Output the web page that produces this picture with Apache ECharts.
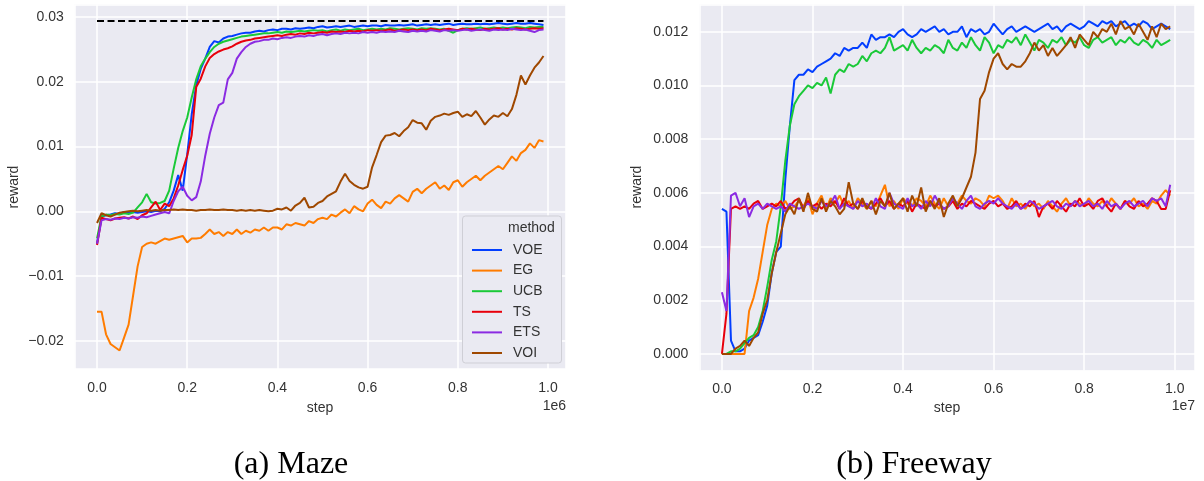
<!DOCTYPE html>
<html>
<head>
<meta charset="utf-8">
<script src="https://cdn.jsdelivr.net/npm/echarts@6/dist/echarts.min.js"></script>
<style>
html,body{margin:0;padding:0;background:#fff;}
#chart{width:1204px;height:481px;}
</style>
</head>
<body>
<div id="chart"></div>
<script>
// ---------------- DATA ----------------
const methods = ['VOE', 'EG', 'UCB', 'TS', 'ETS', 'VOI'];
const colors = ['#023eff', '#ff7c00', '#1ac938', '#e8000b', '#8b2be2', '#9f4800'];

// Maze: steps 0 .. 0.99e6 (every 1e4)
const mazeSteps = Array.from({length: 100}, (_, i) => i * 10000);
const mazeOptimal = 0.0294;
const mazeVOE = [-0.0050,-0.0008,-0.0006,-0.0005,-0.0003,-0.0004,-0.0001,-0.0002,-0.0001,-0.0002,
 -0.0001,0.0000,-0.0001,0.0001,0.0000,0.0004,0.0014,0.0032,0.0056,0.0032,
 0.0088,0.0150,0.0195,0.0220,0.0236,0.0254,0.0263,0.0261,0.0267,0.0270,
 0.0271,0.0273,0.0275,0.0276,0.0276,0.0278,0.0279,0.0278,0.0280,0.0281,
 0.0280,0.0282,0.0282,0.0281,0.0283,0.0282,0.0283,0.0284,0.0283,0.0285,
 0.0286,0.0284,0.0285,0.0286,0.0285,0.0286,0.0287,0.0285,0.0286,0.0287,
 0.0286,0.0287,0.0287,0.0286,0.0288,0.0287,0.0287,0.0288,0.0287,0.0288,
 0.0289,0.0287,0.0288,0.0289,0.0288,0.0289,0.0288,0.0289,0.0290,0.0288,
 0.0289,0.0290,0.0289,0.0289,0.0290,0.0289,0.0290,0.0289,0.0290,0.0291,
 0.0290,0.0289,0.0290,0.0291,0.0290,0.0290,0.0291,0.0290,0.0289,0.0288];
const mazeEG = [-0.0155,-0.0155,-0.0190,-0.0205,-0.0210,-0.0215,-0.0195,-0.0175,-0.0130,-0.0085,
 -0.0055,-0.0050,-0.0048,-0.0050,-0.0046,-0.0042,-0.0044,-0.0042,-0.0040,-0.0038,
 -0.0048,-0.0042,-0.0042,-0.0041,-0.0035,-0.0028,-0.0035,-0.0032,-0.0038,-0.0032,
 -0.0035,-0.0028,-0.0035,-0.0030,-0.0033,-0.0028,-0.0030,-0.0025,-0.0030,-0.0025,
 -0.0025,-0.0028,-0.0020,-0.0022,-0.0018,-0.0020,-0.0022,-0.0015,-0.0018,-0.0012,
 -0.0010,-0.0012,-0.0005,-0.0008,-0.0002,0.0003,-0.0003,0.0008,0.0003,0.0000,
 0.0012,0.0018,0.0010,0.0005,0.0015,0.0012,0.0020,0.0025,0.0020,0.0015,
 0.0030,0.0035,0.0028,0.0035,0.0040,0.0045,0.0035,0.0040,0.0033,0.0045,
 0.0048,0.0038,0.0045,0.0050,0.0055,0.0048,0.0055,0.0060,0.0065,0.0070,
 0.0065,0.0075,0.0085,0.0078,0.0090,0.0095,0.0105,0.0098,0.0110,0.0108];
const mazeUCB = [-0.0042,-0.0008,-0.0005,-0.0006,-0.0004,-0.0005,-0.0003,-0.0004,-0.0002,0.0006,
 0.0014,0.0027,0.0014,0.0012,0.0013,0.0016,0.0032,0.0066,0.0098,0.0124,
 0.0145,0.0176,0.0204,0.0224,0.0236,0.0246,0.0254,0.0259,0.0262,0.0264,
 0.0266,0.0268,0.0270,0.0271,0.0272,0.0273,0.0274,0.0275,0.0275,0.0276,
 0.0277,0.0276,0.0278,0.0277,0.0278,0.0279,0.0278,0.0279,0.0280,0.0279,
 0.0280,0.0278,0.0280,0.0281,0.0279,0.0281,0.0280,0.0281,0.0282,0.0280,
 0.0281,0.0282,0.0281,0.0282,0.0281,0.0283,0.0282,0.0281,0.0282,0.0283,
 0.0282,0.0281,0.0283,0.0282,0.0283,0.0282,0.0281,0.0282,0.0279,0.0276,
 0.0280,0.0282,0.0283,0.0282,0.0283,0.0284,0.0282,0.0283,0.0284,0.0283,
 0.0284,0.0283,0.0284,0.0285,0.0284,0.0283,0.0285,0.0284,0.0285,0.0285];
const mazeTS = [-0.0052,-0.0010,-0.0012,-0.0014,-0.0011,-0.0010,-0.0009,-0.0011,-0.0008,-0.0012,
 -0.0006,-0.0003,0.0006,0.0015,0.0002,0.0012,0.0008,0.0020,0.0040,0.0064,
 0.0086,0.0118,0.0192,0.0205,0.0224,0.0237,0.0243,0.0247,0.0250,0.0252,
 0.0255,0.0259,0.0262,0.0264,0.0265,0.0267,0.0268,0.0269,0.0270,0.0271,
 0.0272,0.0271,0.0273,0.0274,0.0273,0.0275,0.0274,0.0276,0.0275,0.0276,
 0.0277,0.0276,0.0278,0.0277,0.0278,0.0277,0.0279,0.0278,0.0279,0.0278,
 0.0280,0.0279,0.0280,0.0279,0.0280,0.0281,0.0279,0.0280,0.0281,0.0280,
 0.0281,0.0280,0.0281,0.0280,0.0282,0.0281,0.0280,0.0281,0.0282,0.0281,
 0.0280,0.0282,0.0281,0.0282,0.0281,0.0280,0.0282,0.0281,0.0282,0.0283,
 0.0281,0.0282,0.0281,0.0283,0.0282,0.0281,0.0282,0.0283,0.0282,0.0283];
const mazeETS = [-0.0050,-0.0014,-0.0012,-0.0013,-0.0011,-0.0012,-0.0010,-0.0011,-0.0009,-0.0010,
 -0.0008,-0.0009,-0.0007,-0.0005,-0.0003,-0.0001,-0.0003,0.0016,0.0031,0.0038,
 0.0024,0.0017,0.0022,0.0046,0.0086,0.0120,0.0145,0.0164,0.0168,0.0204,
 0.0214,0.0236,0.0246,0.0254,0.0259,0.0262,0.0263,0.0265,0.0265,0.0267,
 0.0266,0.0268,0.0269,0.0268,0.0270,0.0271,0.0270,0.0272,0.0271,0.0273,
 0.0274,0.0272,0.0274,0.0275,0.0274,0.0276,0.0275,0.0276,0.0275,0.0277,
 0.0276,0.0277,0.0276,0.0278,0.0277,0.0278,0.0277,0.0279,0.0278,0.0277,
 0.0279,0.0278,0.0279,0.0278,0.0280,0.0279,0.0278,0.0280,0.0279,0.0280,
 0.0279,0.0280,0.0281,0.0279,0.0280,0.0281,0.0280,0.0279,0.0281,0.0280,
 0.0281,0.0280,0.0282,0.0281,0.0280,0.0281,0.0279,0.0277,0.0280,0.0281];
const mazeVOI = [-0.0018,-0.0003,-0.0006,-0.0008,-0.0005,-0.0002,-0.0001,0.0000,0.0001,0.0000,
 0.0001,0.0002,0.0001,0.0002,0.0001,0.0002,0.0002,0.0003,0.0002,0.0003,
 0.0002,0.0002,0.0001,0.0002,0.0002,0.0003,0.0002,0.0002,0.0003,0.0002,
 0.0002,0.0001,0.0002,0.0001,0.0002,0.0001,0.0002,0.0001,0.0000,0.0001,
 0.0004,0.0003,0.0006,0.0001,0.0009,0.0013,0.0021,0.0006,0.0007,0.0013,
 0.0016,0.0023,0.0027,0.0031,0.0046,0.0058,0.0047,0.0041,0.0037,0.0035,
 0.0038,0.0068,0.0087,0.0107,0.0117,0.0118,0.0121,0.0116,0.0124,0.0130,
 0.0141,0.0137,0.0136,0.0126,0.0140,0.0146,0.0148,0.0151,0.0149,0.0152,
 0.0154,0.0146,0.0150,0.0147,0.0155,0.0145,0.0134,0.0142,0.0148,0.0146,
 0.0152,0.0147,0.0158,0.0180,0.0210,0.0196,0.0210,0.0222,0.0230,0.0240];

// Freeway: steps 0 .. 0.99e7 (every 1e5)
const fwSteps = Array.from({length: 100}, (_, i) => i * 100000);
const fwVOE = [0.0054,0.0053,0.0005,0.0001,0.0001,0.0002,0.0005,0.0006,0.0007,0.0012,
 0.0018,0.0030,0.0038,0.0040,0.0065,0.0085,0.0102,0.0104,0.0104,0.0106,
 0.0105,0.0107,0.0108,0.0109,0.0110,0.0112,0.0111,0.0114,0.0113,0.0114,
 0.0114,0.0116,0.0114,0.0119,0.0117,0.0118,0.0118,0.0119,0.0118,0.0120,
 0.0121,0.0119,0.0118,0.0119,0.0121,0.0120,0.0121,0.0122,0.0120,0.0121,
 0.0119,0.0120,0.0120,0.0122,0.0118,0.0121,0.0120,0.0121,0.0119,0.0120,
 0.0123,0.0121,0.0119,0.0121,0.0122,0.0120,0.0121,0.0122,0.0121,0.0120,
 0.0121,0.0122,0.0123,0.0121,0.0122,0.0120,0.0122,0.0123,0.0122,0.0121,
 0.0122,0.0124,0.0123,0.0122,0.0124,0.0123,0.0124,0.0122,0.0123,0.0124,
 0.0122,0.0123,0.0122,0.0124,0.0123,0.0121,0.0122,0.0123,0.0122,0.0121];
const fwEG = [0.0000,0.0000,0.0000,0.0000,0.0000,0.0000,0.0016,0.0021,0.0028,0.0038,
 0.0048,0.0054,0.0056,0.0055,0.0057,0.0054,0.0055,0.0057,0.0055,0.0058,
 0.0052,0.0056,0.0059,0.0054,0.0058,0.0056,0.0059,0.0055,0.0057,0.0054,
 0.0058,0.0056,0.0054,0.0057,0.0055,0.0059,0.0063,0.0055,0.0057,0.0054,
 0.0058,0.0056,0.0055,0.0058,0.0057,0.0055,0.0059,0.0056,0.0054,0.0058,
 0.0055,0.0057,0.0056,0.0059,0.0057,0.0056,0.0058,0.0057,0.0055,0.0059,
 0.0058,0.0059,0.0057,0.0054,0.0058,0.0055,0.0056,0.0054,0.0057,0.0055,
 0.0056,0.0054,0.0057,0.0055,0.0053,0.0056,0.0058,0.0055,0.0057,0.0056,
 0.0055,0.0058,0.0056,0.0055,0.0057,0.0055,0.0058,0.0056,0.0054,0.0057,
 0.0056,0.0058,0.0055,0.0056,0.0054,0.0057,0.0056,0.0059,0.0061,0.0059];
const fwUCB = [0.0000,0.0000,0.0001,0.0001,0.0002,0.0004,0.0006,0.0007,0.0010,0.0016,
 0.0025,0.0035,0.0042,0.0055,0.0072,0.0085,0.0093,0.0096,0.0098,0.0100,
 0.0099,0.0101,0.0100,0.0103,0.0097,0.0104,0.0106,0.0105,0.0108,0.0107,
 0.0108,0.0111,0.0109,0.0112,0.0113,0.0112,0.0114,0.0118,0.0113,0.0114,
 0.0115,0.0113,0.0117,0.0114,0.0112,0.0114,0.0113,0.0115,0.0114,0.0112,
 0.0117,0.0114,0.0113,0.0116,0.0114,0.0118,0.0115,0.0113,0.0118,0.0116,
 0.0112,0.0115,0.0114,0.0117,0.0116,0.0118,0.0115,0.0119,0.0116,0.0113,
 0.0117,0.0116,0.0114,0.0117,0.0116,0.0118,0.0115,0.0117,0.0116,0.0118,
 0.0115,0.0114,0.0117,0.0118,0.0116,0.0117,0.0118,0.0115,0.0117,0.0116,
 0.0118,0.0116,0.0115,0.0117,0.0116,0.0114,0.0117,0.0115,0.0116,0.0117];
const fwTS = [0.0000,0.0015,0.0054,0.0055,0.0054,0.0055,0.0054,0.0056,0.0057,0.0054,
 0.0055,0.0056,0.0055,0.0057,0.0054,0.0055,0.0057,0.0058,0.0054,0.0057,
 0.0055,0.0056,0.0054,0.0056,0.0055,0.0057,0.0054,0.0058,0.0055,0.0056,
 0.0054,0.0057,0.0055,0.0054,0.0056,0.0058,0.0055,0.0057,0.0054,0.0056,
 0.0055,0.0057,0.0053,0.0056,0.0055,0.0054,0.0057,0.0055,0.0056,0.0054,
 0.0055,0.0057,0.0054,0.0056,0.0055,0.0057,0.0056,0.0055,0.0054,0.0056,
 0.0057,0.0055,0.0056,0.0054,0.0055,0.0057,0.0054,0.0056,0.0055,0.0057,
 0.0051,0.0055,0.0056,0.0054,0.0057,0.0055,0.0053,0.0056,0.0055,0.0058,
 0.0055,0.0056,0.0054,0.0057,0.0058,0.0055,0.0053,0.0056,0.0054,0.0057,
 0.0055,0.0054,0.0057,0.0055,0.0056,0.0058,0.0057,0.0054,0.0054,0.0061];
const fwETS = [0.0023,0.0016,0.0059,0.0060,0.0055,0.0058,0.0051,0.0055,0.0056,0.0054,
 0.0056,0.0055,0.0054,0.0055,0.0053,0.0056,0.0055,0.0054,0.0055,0.0056,
 0.0055,0.0054,0.0057,0.0055,0.0056,0.0059,0.0054,0.0056,0.0055,0.0054,
 0.0057,0.0055,0.0056,0.0054,0.0058,0.0055,0.0054,0.0060,0.0056,0.0055,
 0.0054,0.0058,0.0055,0.0056,0.0054,0.0057,0.0055,0.0059,0.0056,0.0054,
 0.0055,0.0058,0.0056,0.0054,0.0057,0.0059,0.0055,0.0054,0.0056,0.0057,
 0.0056,0.0058,0.0056,0.0055,0.0054,0.0056,0.0054,0.0055,0.0057,0.0056,
 0.0054,0.0055,0.0056,0.0057,0.0055,0.0054,0.0056,0.0055,0.0057,0.0055,
 0.0056,0.0057,0.0055,0.0056,0.0054,0.0057,0.0055,0.0056,0.0054,0.0056,
 0.0057,0.0055,0.0056,0.0057,0.0055,0.0058,0.0057,0.0058,0.0055,0.0063];
const fwVOI = [0.0000,0.0000,0.0000,0.0002,0.0003,0.0005,0.0003,0.0006,0.0008,0.0015,
 0.0020,0.0030,0.0038,0.0045,0.0052,0.0055,0.0052,0.0058,0.0053,0.0060,
 0.0054,0.0053,0.0058,0.0053,0.0057,0.0055,0.0052,0.0054,0.0064,0.0056,
 0.0054,0.0058,0.0054,0.0057,0.0052,0.0057,0.0055,0.0060,0.0054,0.0056,
 0.0058,0.0053,0.0059,0.0055,0.0062,0.0053,0.0057,0.0054,0.0058,0.0051,
 0.0056,0.0059,0.0055,0.0058,0.0062,0.0066,0.0075,0.0095,0.0098,0.0105,
 0.0110,0.0112,0.0108,0.0106,0.0108,0.0107,0.0107,0.0109,0.0112,0.0116,
 0.0113,0.0115,0.0111,0.0114,0.0111,0.0113,0.0115,0.0118,0.0114,0.0119,
 0.0117,0.0115,0.0120,0.0118,0.0121,0.0120,0.0123,0.0119,0.0124,0.0121,
 0.0122,0.0119,0.0123,0.0120,0.0117,0.0122,0.0118,0.0123,0.0121,0.0122];

const mazeSeries = [mazeVOE, mazeEG, mazeUCB, mazeTS, mazeETS, mazeVOI];
const fwSeries = [fwVOE, fwEG, fwUCB, fwTS, fwETS, fwVOI];

// ---------------- CHART ----------------
const SANS = '"Liberation Sans", Arial, sans-serif';
const SERIF = '"Liberation Serif", "DejaVu Serif", serif';
const TXT = '#333333';

function pair(xs, ys) { return xs.map((x, i) => [x, ys[i]]); }
function fmt(step, digits) {
  return function (v) {
    const k = v / step;
    if (Math.abs(k - Math.round(k)) > 1e-6) return '';
    const s = (Math.round(k) * step).toFixed(digits);
    return s.charAt(0) === '-' ? '\u2212' + s.slice(1) : s;
  };
}
function xAxisDef(gi, min, max, iv, unit) {
  return {
    type: 'value', gridIndex: gi, min: min, max: max,
    minInterval: iv, maxInterval: iv, splitNumber: 5,
    axisLine: {show: false}, axisTick: {show: false},
    splitLine: {show: true, lineStyle: {color: '#ffffff', width: 1.5}},
    axisLabel: {color: TXT, fontFamily: SANS, fontSize: 14, margin: 12,
      showMinLabel: false, showMaxLabel: false,
      formatter: function (v) { const f = fmt(iv, 1)(v); return f === '' ? '' : (Math.round(v / iv) * iv / unit).toFixed(1); }}
  };
}
function yAxisDef(gi, min, max, iv, digits) {
  return {
    type: 'value', gridIndex: gi, min: min, max: max,
    minInterval: iv, maxInterval: iv, splitNumber: 6,
    axisLine: {show: false}, axisTick: {show: false},
    splitLine: {show: true, lineStyle: {color: '#ffffff', width: 1.5}},
    axisLabel: {color: TXT, fontFamily: SANS, fontSize: 14, margin: 11,
      showMinLabel: false, showMaxLabel: false, formatter: fmt(iv, digits)}
  };
}

const series = [];
methods.forEach((m, k) => {
  series.push({
    name: m, type: 'line', xAxisIndex: 0, yAxisIndex: 0,
    data: pair(mazeSteps, mazeSeries[k]), showSymbol: false, symbol: 'none',
    lineStyle: {color: colors[k], width: 2}, itemStyle: {color: colors[k]},
    z: 2 + k * 0.01, silent: true
  });
});
series.push({
  name: 'optimal', type: 'line', xAxisIndex: 0, yAxisIndex: 0,
  data: [[mazeSteps[0], mazeOptimal], [mazeSteps[mazeSteps.length - 1], mazeOptimal]],
  showSymbol: false, symbol: 'none',
  lineStyle: {color: '#000000', width: 2, type: [7, 3.5]}, z: 2.5, silent: true
});
methods.forEach((m, k) => {
  series.push({
    name: m, type: 'line', xAxisIndex: 1, yAxisIndex: 1,
    data: pair(fwSteps, fwSeries[k]), showSymbol: false, symbol: 'none',
    lineStyle: {color: colors[k], width: 2}, itemStyle: {color: colors[k]},
    z: 2 + k * 0.01, silent: true
  });
});

const chart = echarts.init(document.getElementById('chart'), null, {renderer: 'canvas'});
chart.setOption({
  animation: false,
  backgroundColor: '#ffffff',
  grid: [
    {left: 74.7, top: 4.5, width: 491.1, height: 364.5, show: true, backgroundColor: '#EAEAF2', borderWidth: 0, containLabel: false},
    {left: 699.4, top: 4.4, width: 495.6, height: 366.2, show: true, backgroundColor: '#EAEAF2', borderWidth: 0, containLabel: false}
  ],
  xAxis: [
    xAxisDef(0, -49500, 1039500, 200000, 1e6),
    xAxisDef(1, -497500, 10447500, 2000000, 1e7)
  ],
  yAxis: [
    yAxisDef(0, -0.02436, 0.03196, 0.01, 2),
    yAxisDef(1, -0.00062, 0.01302, 0.002, 3)
  ],
  legend: {
    show: true, orient: 'vertical', left: 467, top: 238,
    data: methods, selectedMode: false,
    icon: 'rect', itemWidth: 30, itemHeight: 2, itemGap: 6.6,
    textStyle: {color: TXT, fontFamily: SANS, fontSize: 14, lineHeight: 14, padding: [0, 0, 0, 6]},
    z: 20
  },
  graphic: [
    {type: 'rect', shape: {x: 462.5, y: 216, width: 99, height: 147, r: 3},
     style: {fill: '#EAEAF2', stroke: '#cfcfd6', lineWidth: 1}, z: 15, silent: true},
    {type: 'text', x: 508, y: 228, z: 16, silent: true,
     style: {text: 'method', fill: TXT, font: '14px ' + SANS, textAlign: 'left', align: 'left', textVerticalAlign: 'middle', verticalAlign: 'middle'}},
    // axis names
    {type: 'text', x: 320, y: 408, silent: true,
     style: {text: 'step', fill: TXT, font: '14px ' + SANS, textAlign: 'center', align: 'center', textVerticalAlign: 'middle', verticalAlign: 'middle'}},
    {type: 'text', x: 947, y: 408, silent: true,
     style: {text: 'step', fill: TXT, font: '14px ' + SANS, textAlign: 'center', align: 'center', textVerticalAlign: 'middle', verticalAlign: 'middle'}},
    {type: 'text', x: 14, y: 187, rotation: Math.PI / 2, silent: true,
     style: {text: 'reward', fill: TXT, font: '14px ' + SANS, textAlign: 'center', align: 'center', textVerticalAlign: 'middle', verticalAlign: 'middle'}},
    {type: 'text', x: 637, y: 187, rotation: Math.PI / 2, silent: true,
     style: {text: 'reward', fill: TXT, font: '14px ' + SANS, textAlign: 'center', align: 'center', textVerticalAlign: 'middle', verticalAlign: 'middle'}},
    {type: 'text', x: 566, y: 406, silent: true,
     style: {text: '1e6', fill: TXT, font: '14px ' + SANS, textAlign: 'right', align: 'right', textVerticalAlign: 'middle', verticalAlign: 'middle'}},
    {type: 'text', x: 1195, y: 406, silent: true,
     style: {text: '1e7', fill: TXT, font: '14px ' + SANS, textAlign: 'right', align: 'right', textVerticalAlign: 'middle', verticalAlign: 'middle'}},
    // captions
    {type: 'text', x: 291, y: 465, silent: true,
     style: {text: '(a) Maze', fill: '#000000', font: '32px ' + SERIF, textAlign: 'center', align: 'center', textVerticalAlign: 'middle', verticalAlign: 'middle'}},
    {type: 'text', x: 914, y: 465, silent: true,
     style: {text: '(b) Freeway', fill: '#000000', font: '32px ' + SERIF, textAlign: 'center', align: 'center', textVerticalAlign: 'middle', verticalAlign: 'middle'}}
  ],
  series: series
});
</script>
</body>
</html>
